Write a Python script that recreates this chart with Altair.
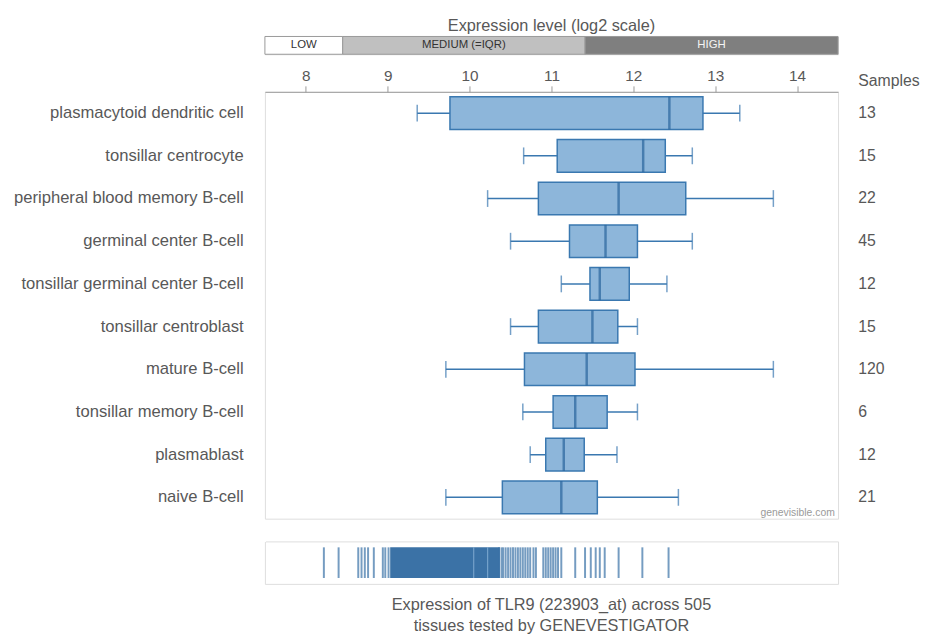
import altair as alt
import pandas as pd

FONT = "Liberation Sans"
TXT = "#585858"

# ---- data ----
cells = [
    "plasmacytoid dendritic cell",
    "tonsillar centrocyte",
    "peripheral blood memory B-cell",
    "germinal center B-cell",
    "tonsillar germinal center B-cell",
    "tonsillar centroblast",
    "mature B-cell",
    "tonsillar memory B-cell",
    "plasmablast",
    "naive B-cell",
]
whisker_low = [9.36, 10.66, 10.22, 10.50, 11.12, 10.50, 9.71, 10.65, 10.74, 9.71]
q1 = [9.76, 11.07, 10.84, 11.22, 11.47, 10.84, 10.67, 11.02, 10.93, 10.40]
median = [12.44, 12.12, 11.82, 11.66, 11.59, 11.50, 11.43, 11.29, 11.15, 11.12]
q3 = [12.85, 12.39, 12.64, 12.05, 11.95, 11.81, 12.02, 11.68, 11.40, 11.56]
whisker_high = [13.30, 12.72, 13.71, 12.72, 12.41, 12.05, 13.71, 12.05, 11.80, 12.55]
samples = [13, 15, 22, 45, 12, 15, 120, 6, 12, 21]

level_names = ["LOW", "MEDIUM (=IQR)", "HIGH"]
level_start = [7.5, 8.45, 11.41]
level_end = [8.45, 11.41, 14.5]
level_fill = ["#ffffff", "#c0c0c0", "#7f7f7f"]
level_text = ["#333333", "#333333", "#f4f4f4"]

axis_ticks = [8, 9, 10, 11, 12, 13, 14]
x_domain = [7.5, 14.5]

# All tissues strip
tissue_values = [8.22, 8.40, 8.64, 8.68, 8.72, 8.76, 8.83, 8.94, 8.97, 9.01,
                 10.36, 10.39, 10.41, 10.44, 10.47, 10.50, 10.53, 10.56, 10.59,
                 10.62, 10.65, 10.68, 10.71, 10.74, 10.78, 10.81, 10.90, 10.93,
                 10.96, 10.99, 11.02, 11.05, 11.08, 11.12,
                 11.29, 11.41, 11.48, 11.54, 11.59, 11.65, 11.82, 12.11, 12.43]
dense_start = [9.03]
dense_end = [10.37]
light_values = [10.05, 10.22]

# ---- frames ----
df_box = pd.DataFrame({"cell": cells, "lo": whisker_low, "q1": q1, "med": median,
                       "q3": q3, "hi": whisker_high, "n": samples})
df_lvl = pd.DataFrame({"name": level_names, "start": level_start, "end": level_end})
df_tis = pd.DataFrame({"v": tissue_values, "lab": "All Tissues"})
df_dense = pd.DataFrame({"s": dense_start, "e": dense_end, "lab": "All Tissues"})
df_light = pd.DataFrame({"v": light_values, "lab": "All Tissues"})

xscale = alt.Scale(domain=x_domain, nice=False, zero=False)
xaxis = alt.Axis(orient="top", values=axis_ticks, title=None, grid=False,
                 tickSize=6, tickColor="#999999", domainColor="#999999",
                 labelFontSize=15.5, labelColor=TXT, labelFont=FONT, labelPadding=2)

def X(f):
    return alt.X(f"{f}:Q", scale=xscale, axis=xaxis)

yscale = alt.Scale(domain=cells, paddingInner=0, paddingOuter=0)
yleft = alt.Y("cell:N", sort=cells, scale=yscale,
              axis=alt.Axis(title=None, ticks=False, domain=False, labelFontSize=16.8,
                            labelColor=TXT, labelFont=FONT, labelPadding=22, labelLimit=400))
ynone = alt.Y("cell:N", sort=cells, scale=yscale, axis=None)

count_labels = [str(s) for s in samples]
label_expr = "[" + ",".join(f"'{c}'" for c in count_labels) + "][indexof([" + \
    ",".join(f"'{c}'" for c in cells) + "], datum.value)]"
yright = alt.Y("cell:N", sort=cells, scale=yscale,
               axis=alt.Axis(orient="right", title="Samples", ticks=False, domain=False,
                             labelExpr=label_expr, labelFontSize=16, labelColor=TXT,
                             labelFont=FONT, labelPadding=20, labelAlign="left",
                             titleAngle=0, titleAlign="left", titleBaseline="bottom",
                             titleX=20, titleY=-3, titleFontSize=16, titleFont=FONT,
                             titleFontWeight="normal", titleColor=TXT))

BLUE = "#3a78b0"
base = alt.Chart(df_box)
whisk = base.mark_rule(color=BLUE, strokeWidth=1.5).encode(x=X("lo"), x2="hi", y=yleft)
box = base.mark_bar(size=33, fill="#8db6da", stroke=BLUE, strokeWidth=1.5).encode(
    x=X("q1"), x2="q3", y=ynone)
med = base.mark_tick(size=33, thickness=2.5, color="#2a659c").encode(x=X("med"), y=ynone)
cap_lo = base.mark_tick(size=17, thickness=1.5, color=BLUE).encode(x=X("lo"), y=ynone)
cap_hi = base.mark_tick(size=17, thickness=1.5, color=BLUE).encode(x=X("hi"), y=ynone)
right = base.mark_bar(opacity=0).encode(x=X("q1"), x2="q3", y=yright)
wm = alt.Chart(pd.DataFrame({"t": ["genevisible.com"], "xv": [14.46], "cell": [cells[-1]]})).mark_text(
    align="right", baseline="middle", dy=16, fontSize=10.5, color="#9a9a9a", font=FONT
).encode(x=X("xv"), y=ynone, text="t:N")

main = alt.layer(whisk, box, med, cap_lo, cap_hi, right, wm).resolve_axis(y="independent").properties(
    width=580, height=432)

# header
hx = alt.X("start:Q", scale=xscale, axis=None)
hdr_rect = alt.Chart(df_lvl).mark_rect(stroke="#999999", strokeWidth=1).encode(
    x=hx, x2="end",
    color=alt.Color("name:N", scale=alt.Scale(domain=level_names, range=level_fill), legend=None))
hdr_text = alt.Chart(df_lvl).transform_calculate(mid="(datum.start + datum.end) / 2").mark_text(
    fontSize=11.5, font=FONT).encode(
    x=alt.X("mid:Q", scale=xscale, axis=None), text="name:N",
    color=alt.Color("name:N", scale=alt.Scale(domain=level_names, range=level_text), legend=None))
header = alt.layer(hdr_rect, hdr_text).resolve_scale(color="independent").properties(
    width=580, height=18,
    title=alt.TitleParams("Expression level (log2 scale)", frame="group", anchor="middle",
                          fontSize=16.5, fontWeight="normal", color=TXT, font=FONT, offset=2))

# strip
sy = alt.Y("lab:N", axis=alt.Axis(title=None, ticks=False, domain=False, labelFontSize=16.8,
                                  labelColor=TXT, labelFont=FONT, labelPadding=22))
sy0 = alt.Y("lab:N", axis=None)
stop_axis = alt.Axis(orient="top", labels=False, domain=False, ticks=True, tickSize=8,
                     tickColor="white", values=[7.5], title=None, grid=False)
sband = alt.Chart(df_dense).mark_bar(size=31, color="#3b72a6").encode(
    x=alt.X("s:Q", scale=xscale, axis=stop_axis), x2="e", y=sy)
sticks = alt.Chart(df_tis).mark_tick(size=31, thickness=2, color="#3b72a6").encode(
    x=alt.X("v:Q", scale=xscale, axis=stop_axis), y=sy0)
slight = alt.Chart(df_light).mark_tick(size=31, thickness=1.2, color="#8fb6da").encode(
    x=alt.X("v:Q", scale=xscale, axis=stop_axis), y=sy0)
strip = alt.layer(sband, sticks, slight).properties(
    width=580, height=43,
    title=alt.TitleParams(["Expression of TLR9 (223903_at) across 505",
                           "tissues tested by GENEVESTIGATOR"],
                          orient="bottom", frame="group", anchor="middle", fontSize=16.5,
                          fontWeight="normal", color=TXT, font=FONT, offset=13, lineHeight=22))

chart = alt.vconcat(header, main, strip, spacing=13).configure_view(
    stroke="#a8a8a8", strokeWidth=1.5).configure(background="white")

chart.save("out.html", embed_options={"renderer": "svg", "actions": False})
